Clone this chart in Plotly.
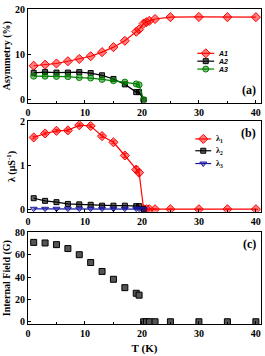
import plotly.graph_objects as go
from plotly.subplots import make_subplots

T = [1, 3, 5, 7, 9, 11, 13, 15, 17, 19, 19.5, 20.3, 20.8, 21.3, 22.3, 25, 30, 35, 40]
A1 = [7.5, 7.75, 8.0, 8.5, 9.0, 9.6, 10.5, 11.6, 13.0, 15.0, 15.5, 16.8, 17.1, 17.4, 17.8, 18.2, 18.25, 18.2, 18.2]
T_low = [1, 3, 5, 7, 9, 11, 13, 15, 17, 19, 19.5, 20.3]
A2 = [5.95, 6.1, 6.0, 6.0, 6.1, 5.9, 5.4, 4.6, 3.4, 1.7, 1.7, 0.0]
A3 = [5.2, 5.2, 5.15, 5.1, 4.9, 4.8, 4.5, 4.2, 3.9, 3.5, 3.3, 0.0]
L1 = [1.63, 1.72, 1.78, 1.79, 1.91, 1.89, 1.66, 1.52, 1.22, 0.90, 0.83, 0.0, 0.0, 0.0, 0.0, 0.0, 0.0, 0.0, 0.0]
L1_err = [0.03, 0.03, 0.03, 0.03, 0.03, 0.03, 0.03, 0.03, 0.05, 0.07, 0.07, 0, 0, 0, 0, 0, 0, 0, 0]
L2 = [0.25, 0.19, 0.16, 0.12, 0.11, 0.10, 0.08, 0.08, 0.08, 0.07, 0.07, 0.0]
L3 = [0.01, 0.01, 0.01, 0.01, 0.01, 0.01, 0.01, 0.01, 0.01, 0.01, 0.01, 0.0]
B = [71, 70.5, 69, 65.5, 60, 53, 45, 38, 30.5, 25.5, 23.8, 0, 0, 0, 0, 0, 0, 0, 0]

LEG_A = ["<i>A1</i>", "<i>A2</i>", "<i>A3</i>"]
LEG_B = ["λ<sub>1</sub>", "λ<sub>2</sub>", "λ<sub>3</sub>"]

FONT = "Liberation Serif"
RED = "#ff0000"
BLACK = "#000000"
GREEN = "#008000"
BLUE = "#1a1aa6"

W, H = 265, 356
ML, MR, MT, MB = 28, 3, 5, 31
PW, PH = W - ML - MR, H - MT - MB


def px2paper(px, py):
    return (px - ML) / PW, (H - MB - py) / PH


styles_a = [
    dict(color=RED, symbol="diamond", size=7, fill="rgba(255,0,0,0.5)"),
    dict(color=BLACK, symbol="square", size=5, fill="rgba(0,0,0,0.6)"),
    dict(color=GREEN, symbol="circle", size=6, fill="rgba(0,128,0,0.5)"),
]
styles_b = [
    dict(color=RED, symbol="diamond", size=7, fill="rgba(255,0,0,0.5)"),
    dict(color=BLACK, symbol="square", size=5, fill="rgba(0,0,0,0.6)"),
    dict(color=BLUE, symbol="triangle-down", size=6, fill="rgba(26,26,166,0.4)"),
]

fig = make_subplots(rows=3, cols=1, shared_xaxes=False, vertical_spacing=0.05)


def series(x, y, st, name, row, err=None):
    kw = {}
    if err is not None:
        kw["error_y"] = dict(type="data", array=err, color=st["color"], thickness=0.8, width=2)
    fig.add_trace(go.Scatter(x=x, y=y, name=name, mode="lines+markers", showlegend=False,
                             line=dict(color=st["color"], width=1.2),
                             marker=dict(symbol=st["symbol"], size=st["size"], color=st["fill"],
                                         line=dict(color=st["color"], width=1)), **kw),
                  row=row, col=1)


series(T, A1, styles_a[0], "A1", 1)
series(T_low, A2, styles_a[1], "A2", 1)
series(T_low, A3, styles_a[2], "A3", 1)
series(T, L1, styles_b[0], "λ1", 2, err=L1_err)
series(T_low, L2, styles_b[1], "λ2", 2)
series(T_low, L3, styles_b[2], "λ3", 2)

fig.add_trace(go.Scatter(x=T, y=B, name="B", mode="markers", showlegend=False,
                         marker=dict(symbol="square", size=6, color="#555555",
                                     line=dict(color=BLACK, width=1))), row=3, col=1)

axis_common = dict(showline=True, linecolor="#000", linewidth=1, mirror=True,
                   ticks="inside", ticklen=3, tickcolor="#000", showgrid=False, zeroline=False,
                   tickfont=dict(family=FONT, size=10, color="#000", weight="bold"))

for r, dom in zip([1, 2, 3], [[0.703, 1.0], [0.356, 0.644], [0.0, 0.291]]):
    fig.update_xaxes(range=[0, 40.9], tickvals=[0, 10, 20, 30, 40],
                     minor=dict(tickvals=[5, 15, 25, 35], ticks="inside", ticklen=2, tickcolor="#000"),
                     row=r, col=1, **axis_common)
    fig.update_yaxes(domain=dom, row=r, col=1, **axis_common)

fig.update_yaxes(range=[-0.6, 20], tickvals=[0, 10, 20], row=1, col=1,
                 title=dict(text="<b>Asymmetry (%)</b>", font=dict(family=FONT, size=10), standoff=2))
fig.update_yaxes(range=[-0.06, 2], tickvals=[0, 1, 2], row=2, col=1,
                 title=dict(text="<b>λ (μS<sup>-1</sup>)</b>", font=dict(family=FONT, size=10), standoff=2))
fig.update_yaxes(range=[-2, 80], tickvals=[0, 20, 40, 60, 80], row=3, col=1,
                 title=dict(text="<b>Internal Field (G)</b>", font=dict(family=FONT, size=10), standoff=2))
fig.update_xaxes(title=dict(text="<b>T (K)</b>", font=dict(family=FONT, size=11), standoff=6),
                 row=3, col=1)

# compact legends drawn on an invisible overlay axis spanning the whole plot area
fig.update_layout(
    xaxis4=dict(domain=[0, 1], range=[0, 1], visible=False, fixedrange=True, anchor="y4",
                showgrid=False, zeroline=False),
    yaxis4=dict(domain=[0, 1], range=[0, 1], visible=False, fixedrange=True, anchor="x4",
                showgrid=False, zeroline=False),
)

annotations = []


def legend_block(labels, styles, x0px, x1px, txpx, ys, fontsize, fontfam):
    for lab, st, ypx in zip(labels, styles, ys):
        xa, ya = px2paper(x0px, ypx)
        xb, _ = px2paper(x1px, ypx)
        fig.add_trace(go.Scatter(x=[xa, xb], y=[ya, ya], xaxis="x4", yaxis="y4",
                                 mode="lines", showlegend=False, hoverinfo="skip",
                                 line=dict(color=st["color"], width=1.2)))
        fig.add_trace(go.Scatter(x=[(xa + xb) / 2], y=[ya], xaxis="x4", yaxis="y4",
                                 mode="markers", showlegend=False, hoverinfo="skip",
                                 marker=dict(symbol=st["symbol"], size=st["size"], color=st["fill"],
                                             line=dict(color=st["color"], width=1))))
        xt, _ = px2paper(txpx, ypx)
        annotations.append(dict(text=lab, x=xt, y=ya, xref="paper", yref="paper",
                                xanchor="left", yanchor="middle", showarrow=False,
                                font=dict(family=fontfam, size=fontsize, weight="bold")))


legend_block(LEG_A, styles_a, 198, 215, 217, [50, 58, 66], 7, "Liberation Sans")
legend_block(LEG_B, styles_b, 196, 212, 215, [137, 149, 162], 8, FONT)

annotations += [
    dict(text="<b>(a)</b>", x=0.985, y=0.715, xref="paper", yref="paper",
         xanchor="right", yanchor="bottom", showarrow=False, font=dict(family=FONT, size=12)),
    dict(text="<b>(b)</b>", x=0.985, y=0.635, xref="paper", yref="paper",
         xanchor="right", yanchor="top", showarrow=False, font=dict(family=FONT, size=12)),
    dict(text="<b>(c)</b>", x=0.985, y=0.282, xref="paper", yref="paper",
         xanchor="right", yanchor="top", showarrow=False, font=dict(family=FONT, size=12)),
]

fig.update_layout(
    width=W, height=H,
    margin=dict(l=ML, r=MR, t=MT, b=MB),
    paper_bgcolor="white", plot_bgcolor="rgba(0,0,0,0)",
    font=dict(family=FONT, size=10, color="#000"),
    showlegend=False,
    annotations=annotations,
)

fig.write_html("out.html", config={"displayModeBar": False},
               post_script="document.body.style.margin='0';document.body.style.overflow='hidden';")
